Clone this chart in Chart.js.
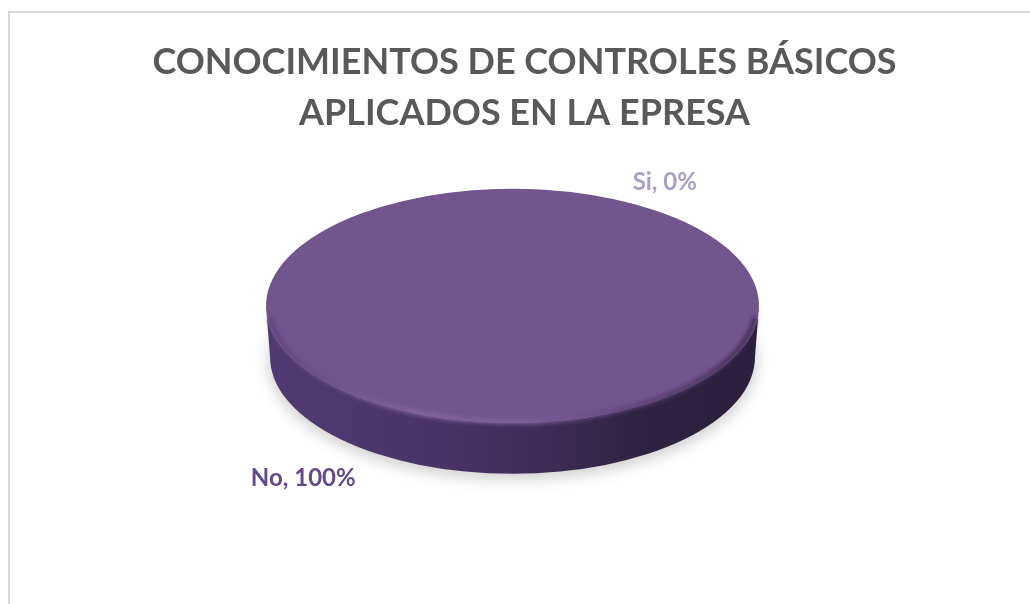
<!DOCTYPE html>
<html lang="es">
<head>
<meta charset="utf-8">
<title>Conocimientos de controles básicos</title>
<script src="https://cdn.jsdelivr.net/npm/chart.js@4/dist/chart.umd.js"></script>
<style>
  html, body { margin: 0; padding: 0; background: #fff; overflow: hidden; }
  #wrap { position: relative; width: 1030px; height: 604px; overflow: hidden; }
  #frame { position: absolute; left: 8px; top: 11px; width: 1060px; height: 640px;
           border: 2px solid #d9d9d9; box-sizing: border-box; }
  canvas { position: absolute; left: 0; top: 0; }
</style>
</head>
<body>
<div id="wrap">
  <div id="frame"></div>
  <canvas id="chart" width="1030" height="604"></canvas>
</div>
<script>
const titleLines = ['CONOCIMIENTOS DE CONTROLES BÁSICOS', 'APLICADOS EN LA EPRESA'];
const categories = ['Si', 'No'];
const values = [0, 100];
const percentLabels = ['0%', '100%'];
const sliceColors = ['#a99cc4', '#72558d'];
const labelColors = ['#ab9fc7', '#654a8a'];

// Look of the tilted disc
const RADIUS = 246.5;
const TILT = 117 / RADIUS;
const DEPTH = 51;
const TITLE_SHIFT = 12;
const LABEL_NUDGE = [[29, -22], [-86, 20]];

const disc3d = {
  id: 'disc3d',
  afterLayout(chart) {
    // the heading sits slightly right of the disc's axis
    chart.titleBlock.left += TITLE_SHIFT;
    chart.titleBlock.right += TITLE_SHIFT;
  },
  beforeDatasetDraw(chart) {
    const arc = chart.getDatasetMeta(0).data[1];
    const { ctx } = chart;
    const cx = arc.x, cy = arc.y, r = arc.outerRadius, ry = r * TILT;

    // soft floor shadow
    ctx.save();
    ctx.filter = 'blur(7px)';
    ctx.fillStyle = 'rgba(90,90,90,0.28)';
    ctx.beginPath();
    ctx.ellipse(cx, cy + DEPTH + 4, r - 2, ry + 2, 0, 0, Math.PI * 2);
    ctx.fill();
    ctx.restore();

    // side wall, slightly drawn in at the foot
    const wall = ctx.createLinearGradient(cx - r, 0, cx + r, 0);
    wall.addColorStop(0, '#4f3a74');
    wall.addColorStop(0.3, '#4a3569');
    wall.addColorStop(0.55, '#3f2d58');
    wall.addColorStop(0.75, '#2f2342');
    wall.addColorStop(1, '#2a1f3c');
    ctx.save();
    ctx.fillStyle = wall;
    ctx.beginPath();
    ctx.ellipse(cx, cy + DEPTH, r - 4, ry, 0, 0, Math.PI);
    ctx.lineTo(cx - r, cy);
    ctx.ellipse(cx, cy, r, ry, 0, Math.PI, 0, true);
    ctx.closePath();
    ctx.fill();
    ctx.restore();

    // squash the library's round slices into the disc's top face
    ctx.save();
    ctx.translate(0, cy);
    ctx.scale(1, TILT);
    ctx.translate(0, -cy);
  },
  afterDatasetDraw(chart) {
    const { ctx } = chart;
    ctx.restore();
    const meta = chart.getDatasetMeta(0);
    const arc = meta.data[1];
    const cx = arc.x, cy = arc.y, r = arc.outerRadius, ry = r * TILT;

    // bevel along the rim of the top face
    const rim = ctx.createLinearGradient(cx - r, 0, cx + r, 0);
    rim.addColorStop(0, '#5c437f');
    rim.addColorStop(0.3, '#82669f');
    rim.addColorStop(0.55, '#7a5d99');
    rim.addColorStop(0.8, '#553e70');
    rim.addColorStop(1, '#3e2d55');
    ctx.save();
    ctx.filter = 'blur(2px)';
    ctx.strokeStyle = rim;
    ctx.lineWidth = 5;
    ctx.beginPath();
    ctx.ellipse(cx, cy, r - 3, ry - 1, 0, 0.1, Math.PI - 0.1);
    ctx.stroke();
    ctx.restore();

    // slice labels
    ctx.save();
    ctx.font = 'bold 24px Lato, sans-serif';
    ctx.textAlign = 'center';
    ctx.textBaseline = 'middle';
    categories.forEach((name, i) => {
      const el = meta.data[i];
      const mid = (el.startAngle + el.endAngle) / 2;
      const extra = Math.sin(mid) > 0 ? DEPTH : 0;
      const x = el.x + Math.cos(mid) * r + LABEL_NUDGE[i][0];
      const y = el.y + Math.sin(mid) * ry + extra + LABEL_NUDGE[i][1];
      ctx.fillStyle = labelColors[i];
      ctx.fillText(name + ', ' + percentLabels[i], x, y);
    });
    ctx.restore();
  }
};

new Chart(document.getElementById('chart'), {
  type: 'pie',
  data: {
    labels: categories,
    datasets: [{
      data: values,
      backgroundColor: sliceColors,
      borderWidth: 0,
      clip: false
    }]
  },
  options: {
    responsive: false,
    animation: false,
    radius: RADIUS,
    rotation: 30,
    layout: { padding: { right: 5, bottom: 142 } },
    plugins: {
      legend: { display: false },
      tooltip: { enabled: false },
      title: {
        display: true,
        text: titleLines,
        color: '#595959',
        font: { family: 'Lato, sans-serif', size: 36, weight: 'bold', lineHeight: 1.44 },
        padding: { top: 36, bottom: 10 }
      }
    }
  },
  plugins: [disc3d]
});
</script>
</body>
</html>
